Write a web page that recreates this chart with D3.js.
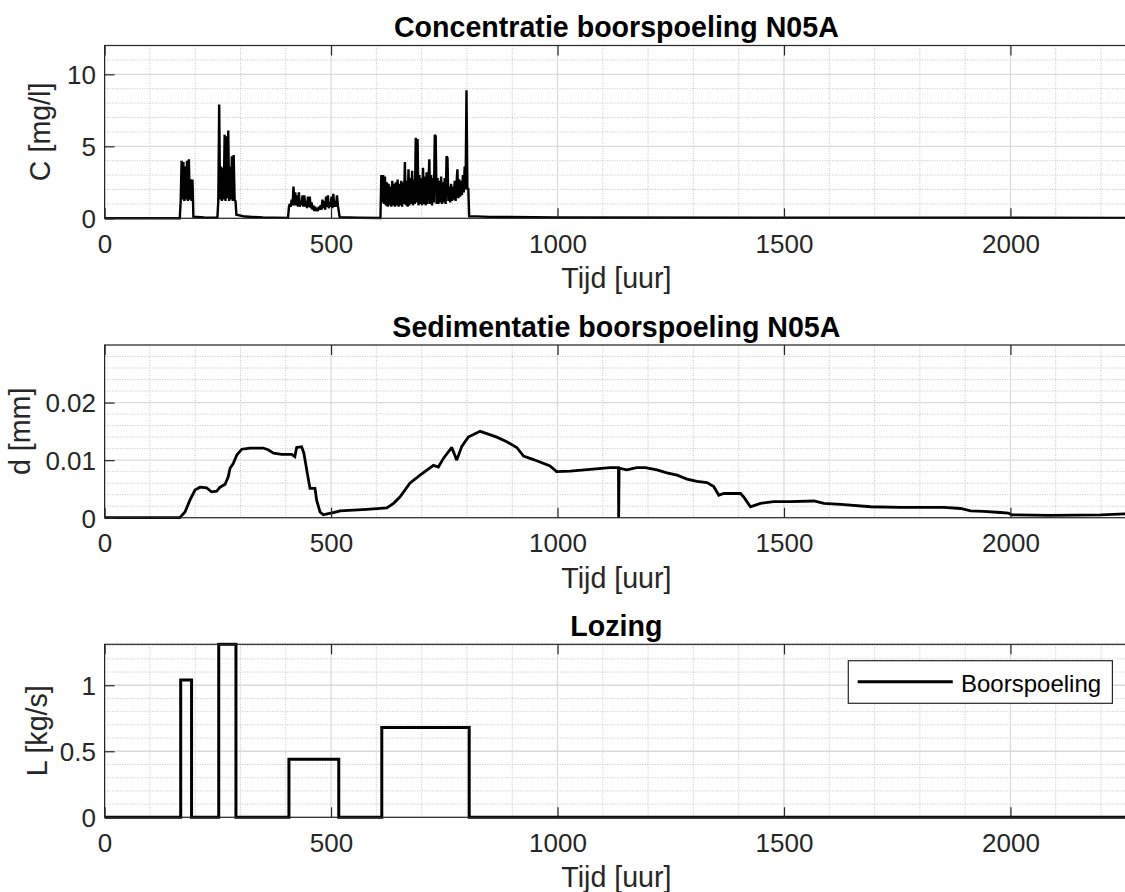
<!DOCTYPE html>
<html><head><meta charset="utf-8">
<script src="https://cdn.jsdelivr.net/npm/d3@7"></script>
<style>body{margin:0;background:#fff}svg{display:block}text{font-family:"Liberation Sans",Arial,Helvetica,sans-serif}</style>
</head><body><svg id="chart" width="1125" height="892"></svg>
<script>
// ---------------- data ----------------
const timeTicks = [0, 500, 1000, 1500, 2000];
const timeTickLabels = ["0", "500", "1000", "1500", "2000"];
const timeMax = 2260;

// Concentratie: bursts sampled every 2 hours from their start time
const burstStarts = [168, 251, 407, 611];
const burstStep = 2;
const burst1 = [1.2, 4.0, 1.3, 3.9, 1.2, 3.6, 1.3, 4.0, 1.2, 4.1, 1.3, 2.7, 1.2, 2.7];
const burst2 = [1.2, 7.9, 1.3, 3.6, 1.2, 3.5, 1.3, 5.8, 1.2, 5.7, 1.4, 6.1, 1.2, 3.6, 1.3, 4.3, 1.2, 4.4, 1.3, 1.2];
const burst3 = [0.8, 1.0, 0.8, 1.3, 0.9, 2.2, 0.9, 1.8, 0.9, 1.6, 0.8, 1.8, 0.8, 1.2, 0.9, 1.6, 0.8, 1.6, 0.8, 1.2,
                0.7, 1.5, 0.8, 1.5, 0.7, 1.1, 0.6, 0.9, 0.5, 0.8, 0.5, 0.7, 0.5, 0.8, 0.6, 0.9, 0.6, 1.3, 0.7, 1.2,
                0.6, 1.5, 0.8, 1.6, 0.7, 1.1, 0.8, 1.5, 0.7, 1.7, 0.8, 1.2, 0.8, 1.6, 0.9, 0.5];
const burst4 = [3.0, 1.1, 3.0, 1.0, 2.9, 0.9, 2.5, 0.8, 2.4, 0.9, 2.2, 0.8, 2.6, 0.9, 2.4, 0.8, 2.5, 0.9, 2.7, 0.8,
                2.4, 0.9, 2.6, 0.8, 2.5, 1.0, 3.9, 0.9, 2.6, 0.8, 3.4, 0.9, 2.8, 1.0, 3.3, 0.9, 2.7, 1.0, 5.6, 1.1,
                5.5, 0.9, 3.0, 1.0, 2.8, 0.9, 3.5, 1.0, 2.9, 0.9, 3.2, 1.0, 2.7, 4.1, 1.0, 3.0, 0.9, 2.8, 1.1, 5.8,
                5.7, 1.0, 2.8, 1.0, 2.6, 1.1, 2.9, 1.0, 2.5, 1.1, 2.8, 1.0, 4.3, 4.2, 1.2, 2.2, 1.1, 2.4, 1.2, 2.2,
                1.3, 2.6, 1.2, 2.4, 3.4, 1.4, 2.7, 1.5, 2.6, 1.6, 3.0, 1.8, 3.6, 2.0, 8.9, 2.0, 2.1, 0.1];
const concQuiet = [[0, 0], [166, 0], [196, 0.12], [220, 0.06], [249, 0.04], [291, 0.25], [310, 0.12], [350, 0.06],
                   [405, 0.03], [519, 0.08], [560, 0.04], [609, 0.02], [807, 0.15], [850, 0.1], [1000, 0.06],
                   [1500, 0.04], [2260, 0.03]];

// Sedimentatie
const sedTime = [0, 166, 177.5, 188.6, 199.6, 210.6, 225, 236, 247.5, 255, 266, 273, 277, 284, 292, 303, 321, 350, 361, 373,
  391, 413, 420, 424, 435, 440, 447.6, 453.5, 464.5, 468, 475.6, 483, 494, 505, 520, 579, 623, 638, 652, 674,
  696.5, 726, 737, 748, 766.5, 777.5, 788.6, 803, 829, 844, 866, 888, 910, 925, 947, 983.5, 998, 1028, 1072, 1116,
  1134.5, 1135, 1136, 1153, 1175, 1194, 1219.5, 1241.6, 1264, 1286, 1308, 1330, 1345, 1356, 1367, 1404, 1411, 1426, 1448, 1477,
  1514, 1566, 1588, 1625, 1691, 1757, 1853, 1890, 1912, 1941, 1978, 1995, 2003, 2088, 2200, 2260];
const sedDepth = [0, 0, 0.0010, 0.0031, 0.0048, 0.0053, 0.0052, 0.0045, 0.0046, 0.0053, 0.0058, 0.0071, 0.0086, 0.0094, 0.0109, 0.0119, 0.0121, 0.0121, 0.0118, 0.0112,
  0.0110, 0.0110, 0.0106, 0.0122, 0.0123, 0.0112, 0.0077, 0.0051, 0.0051, 0.0031, 0.0010, 0.0005, 0.0007, 0.0009, 0.0012, 0.00145, 0.0017, 0.0025, 0.0036, 0.0060,
  0.0074, 0.0091, 0.0088, 0.0103, 0.0122, 0.0100, 0.0124, 0.0140, 0.0150, 0.0146, 0.0140, 0.0132, 0.0122, 0.0107, 0.0101, 0.0090, 0.0080, 0.0081, 0.0084, 0.0087,
  0.0087, 0, 0.0086, 0.0083, 0.0087, 0.0087, 0.0083, 0.0078, 0.0074, 0.0067, 0.0063, 0.0061, 0.0054, 0.0039, 0.0042, 0.0042, 0.0036, 0.0019, 0.0025, 0.0028,
  0.0028, 0.0029, 0.0025, 0.0023, 0.0019, 0.0018, 0.0018, 0.0016, 0.0012, 0.0011, 0.0009, 0.0008, 0.0005, 0.0004, 0.0005, 0.0007];

// Lozing
const dischargeStart = [168, 252, 407, 612];
const dischargeEnd = [192, 290, 517, 805];
const dischargeRate = [1.04, 1.31, 0.44, 0.68];

const cTicks = [0, 5, 10], cTickLabels = ["0", "5", "10"];
const dTicks = [0, 0.01, 0.02], dTickLabels = ["0", "0.01", "0.02"];
const lTicks = [0, 0.5, 1], lTickLabels = ["0", "0.5", "1"];

// ---------------- build series ----------------
const concPoints = concQuiet.slice();
[burst1, burst2, burst3, burst4].forEach((vals, b) => {
  vals.forEach((v, i) => concPoints.push([burstStarts[b] + i * burstStep, v]));
});
concPoints.sort((a, b) => a[0] - b[0]);

const sedPoints = sedTime.map((t, i) => [t, sedDepth[i]]);

const dischargePoints = [[0, 0]];
dischargeStart.forEach((s, i) => {
  dischargePoints.push([s, 0], [s, dischargeRate[i]], [dischargeEnd[i], dischargeRate[i]], [dischargeEnd[i], 0]);
});
dischargePoints.push([timeMax, 0]);

// ---------------- drawing ----------------
const FONT = '"Liberation Sans", Arial, Helvetica, sans-serif';
const AX = "#262626";
const svg = d3.select("#chart");
svg.append("rect").attr("width", 1125).attr("height", 892).attr("fill", "#fff");

const L = 104.6, R = 1128.2;
const x = d3.scaleLinear().domain([0, timeMax]).range([L, R]);

const panels = [
  {top: 45.5, bottom: 218.3, ymax: 12, ticks: cTicks, labels: cTickLabels, minor: 1,
   title: "Concentratie boorspoeling N05A", ylab: "C [mg/l]", ylabX: 50, data: concPoints, lw: 2.4},
  {top: 345, bottom: 517.7, ymax: 0.03, ticks: dTicks, labels: dTickLabels, minor: 0.002,
   title: "Sedimentatie boorspoeling N05A", ylab: "d [mm]", ylabX: 30, data: sedPoints, lw: 2.8},
  {top: 644.3, bottom: 817.3, ymax: d3.max(dischargeRate), ticks: lTicks, labels: lTickLabels, minor: 0.1,
   title: "Lozing", ylab: "L [kg/s]", ylabX: 47, data: dischargePoints, lw: 3}
];

const xMinor = d3.range(100, timeMax, 100).filter(v => v % 500 !== 0);

panels.forEach((p, i) => {
  const y = d3.scaleLinear().domain([0, p.ymax]).range([p.bottom, p.top]);
  const g = svg.append("g");
  const clipId = "clip" + i;
  svg.append("clipPath").attr("id", clipId).append("rect")
    .attr("x", L).attr("y", p.top - 2).attr("width", R - L).attr("height", p.bottom - p.top + 4);

  const nY = Math.floor(p.ymax / p.minor + 1e-6);
  const yMinor = d3.range(1, nY + 1).map(k => +(k * p.minor).toFixed(6))
    .filter(v => !p.ticks.some(m => Math.abs(m - v) < 1e-9));

  // minor grid
  g.append("g").selectAll("line").data(xMinor).join("line")
    .attr("x1", d => x(d)).attr("x2", d => x(d)).attr("y1", p.top).attr("y2", p.bottom)
    .attr("stroke", "#c4c4c4").attr("stroke-width", 1).attr("stroke-dasharray", "1,1.5");
  g.append("g").selectAll("line").data(yMinor).join("line")
    .attr("x1", L).attr("x2", R).attr("y1", d => y(d)).attr("y2", d => y(d))
    .attr("stroke", "#c4c4c4").attr("stroke-width", 1).attr("stroke-dasharray", "1,1.5");
  // major grid
  g.append("g").selectAll("line").data(timeTicks).join("line")
    .attr("x1", d => x(d)).attr("x2", d => x(d)).attr("y1", p.top).attr("y2", p.bottom)
    .attr("stroke", "#dadada").attr("stroke-width", 1.3);
  g.append("g").selectAll("line").data(p.ticks).join("line")
    .attr("x1", L).attr("x2", R).attr("y1", d => y(d)).attr("y2", d => y(d))
    .attr("stroke", "#dadada").attr("stroke-width", 1.3);

  // data line
  g.append("path").datum(p.data)
    .attr("clip-path", `url(#${clipId})`)
    .attr("fill", "none").attr("stroke", "#000").attr("stroke-width", p.lw)
    .attr("stroke-linejoin", "miter").attr("stroke-miterlimit", 2)
    .attr("d", d3.line().x(d => x(d[0])).y(d => y(d[1])));

  // axes
  const xb = g.append("g").attr("transform", `translate(0,${p.bottom})`)
    .call(d3.axisBottom(x).tickValues(timeTicks).tickFormat((d, k) => timeTickLabels[k])
      .tickSizeInner(-10).tickSizeOuter(0).tickPadding(16));
  const xt = g.append("g").attr("transform", `translate(0,${p.top})`)
    .call(d3.axisTop(x).tickValues(timeTicks).tickFormat("").tickSizeInner(-10).tickSizeOuter(0));
  const yl = g.append("g").attr("transform", `translate(${L},0)`)
    .call(d3.axisLeft(y).tickValues(p.ticks).tickFormat((d, k) => p.labels[k])
      .tickSizeInner(-10).tickSizeOuter(0).tickPadding(8.6));
  [xb, xt, yl].forEach(a => {
    a.select(".domain").remove();
    a.attr("font-family", FONT).attr("font-size", 26);
    a.selectAll(".tick line").attr("stroke", AX).attr("stroke-width", 1.2);
    a.selectAll(".tick text").attr("fill", AX);
  });
  yl.selectAll(".tick text").attr("dy", "0.36em");

  // box
  g.append("rect").attr("x", L).attr("y", p.top).attr("width", R - L).attr("height", p.bottom - p.top)
    .attr("fill", "none").attr("stroke", AX).attr("stroke-width", 1.2);

  // title
  g.append("text").attr("x", (L + R) / 2).attr("y", p.top - 8.5)
    .attr("text-anchor", "middle").attr("font-weight", "bold").attr("font-size", 28.6)
    .attr("fill", "#000").text(p.title);
  // x label
  g.append("text").attr("x", (L + R) / 2).attr("y", p.bottom + 70)
    .attr("text-anchor", "middle").attr("font-size", 28.6).attr("fill", AX).text("Tijd [uur]");
  // y label
  g.append("text").attr("transform", `translate(${p.ylabX},${(p.top + p.bottom) / 2}) rotate(-90)`)
    .attr("text-anchor", "middle").attr("font-size", 28.6).attr("fill", AX).text(p.ylab);

  if (i === 2) {
    const lg = g.append("g");
    lg.append("rect").attr("x", 848.3).attr("y", 660.7).attr("width", 264.1).attr("height", 42.6)
      .attr("fill", "#fff").attr("stroke", AX).attr("stroke-width", 1.2);
    lg.append("line").attr("x1", 857.7).attr("x2", 952.8).attr("y1", 681.7).attr("y2", 681.7)
      .attr("stroke", "#000").attr("stroke-width", p.lw);
    lg.append("text").attr("x", 961).attr("y", 692).attr("font-size", 24).attr("fill", "#000").text("Boorspoeling");
  }
});
</script></body></html>
